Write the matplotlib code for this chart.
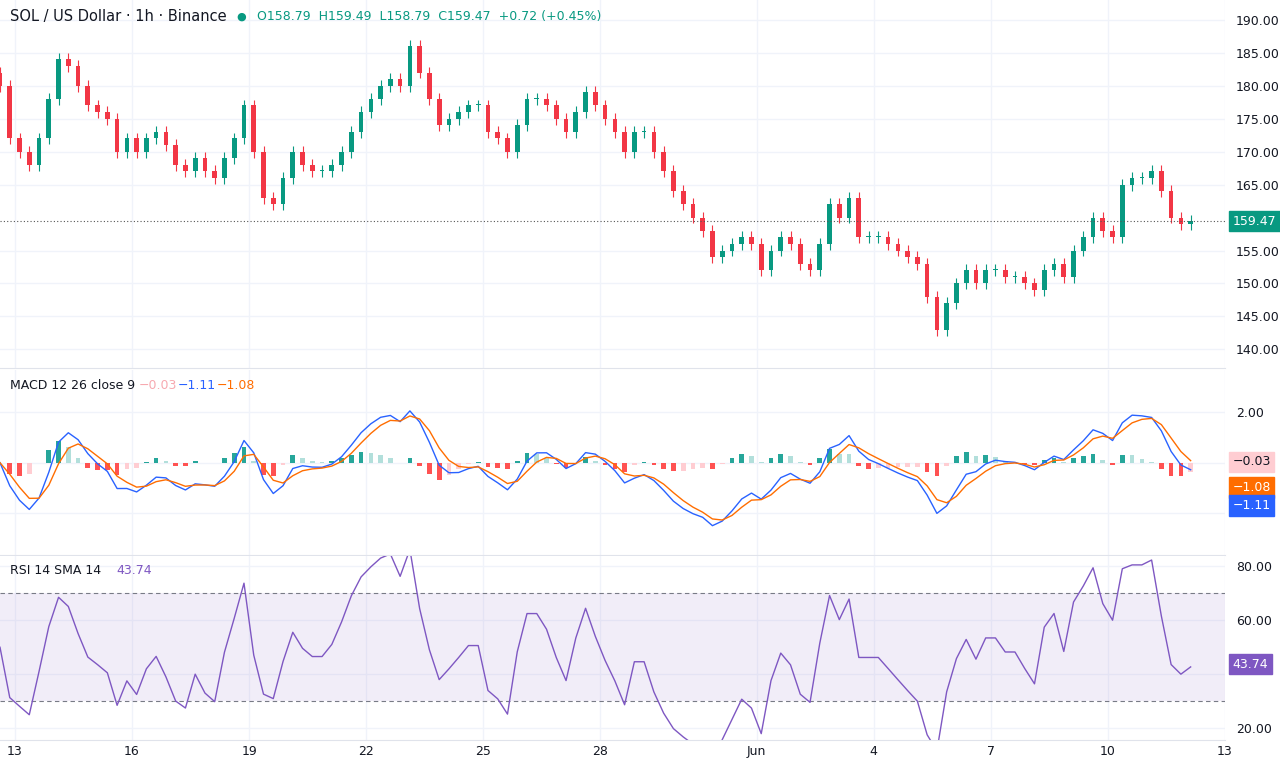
import numpy as np
import matplotlib
matplotlib.use("Agg")
import matplotlib.pyplot as plt

# 6-hour closes starting May 12 ~15:00 (day offset from May 13 00:00)
closes = [180,172,170,168,172,178,184,183,180,177,176,175,170,172,170,172,173,171,168,167,
          169,167,166,169,172,177,170,163,162,166,170,168,167,167,168,170,173,176,178,180,
          181,180,186,182,178,174,175,176,177,177,173,172,170,174,178,178,177,175,173,176,
          179,177,175,173,170,173,173,170,167,164,162,160,158,154,155,156,157,156,152,155,
          157,156,153,152,156,162,160,163,157,157,157,156,155,154,153,148,143,147,150,152,
          150,152,152,151,151,150,149,152,153,151,155,157,160,158,157,165,166,166,167,164,
          160,159,159.47]
wick_up = 0.9
wick_dn = 0.9
start_day = -0.38
step_day = 0.25
tick_days = [0,3,6,9,12,15,19,22,25,28,31]
tick_labels = ["13","16","19","22","25","28","Jun","4","7","10","13"]
price_ticks = [140,145,150,155,165,170,175,180,185,190]

c = np.array(closes, float)
o = np.r_[c[0]+2, c[:-1]]
h = np.maximum(o, c) + wick_up
l = np.minimum(o, c) - wick_dn
x = start_day + step_day*np.arange(len(c))

def ema(a, span):
    al = 2/(span+1); out = np.empty_like(a); out[0] = a[0]
    for i in range(1, len(a)): out[i] = al*a[i] + (1-al)*out[i-1]
    return out
macd = ema(c, 4) - ema(c, 8)
sig = ema(macd, 3)
hist = macd - sig
d = np.diff(c, prepend=c[0]); g = np.clip(d, 0, None); ls = np.clip(-d, 0, None)
g[0] = ls[0] = 1.5
ag = ema(g, 10); al_ = ema(ls, 10)
rsi = 100 - 100/(1 + ag/np.maximum(al_, 1e-9))

fig = plt.figure(figsize=(12.8, 7.68), dpi=100)
W = 1225/1280
ax1 = fig.add_axes([0, 0.521, W, 0.479])
ax2 = fig.add_axes([0, 0.277, W, 0.241], sharex=ax1)
ax3 = fig.add_axes([0, 0.036, W, 0.240], sharex=ax1)
G, R = "#089981", "#f23645"
for xi, oi, hi, li, ci in zip(x, o, h, l, c):
    col = G if ci >= oi else R
    ax1.vlines(xi, li, hi, color=col, lw=0.8)
    ax1.bar(xi, max(abs(ci-oi), 0.15), bottom=min(oi, ci), width=0.12, color=col)
ax1.set_ylim(137.2, 193)
ax1.axhline(c[-1], color="#555", ls=(0,(1,2)), lw=0.8)
ax1.set_yticks(price_ticks)
ax1.text(1.006, c[-1], f"{c[-1]:.2f}", transform=ax1.get_yaxis_transform(), va="center", ha="left",
         color="white", fontsize=9, bbox=dict(boxstyle="square,pad=0.3", fc=G, ec=G))
ax1.text(0.008, 0.955, "SOL / US Dollar · 1h · Binance", transform=ax1.transAxes, fontsize=10.5, color="#131722", va="center")
ax1.text(0.193, 0.955, "●", transform=ax1.transAxes, fontsize=8, color=G, va="center")
ax1.text(0.21, 0.955, "O158.79  H159.49  L158.79  C159.47  +0.72 (+0.45%)", transform=ax1.transAxes, fontsize=9, color=G, va="center")

cols = []
for i in range(len(hist)):
    prev = hist[i-1] if i else 0
    if hist[i] >= 0: cols.append("#26a69a" if hist[i] >= prev else "#b2dfdb")
    else: cols.append("#ff5252" if hist[i] <= prev else "#ffcdd2")
ax2.bar(x, hist, width=0.12, color=cols)
ax2.plot(x, macd, color="#2962ff", lw=1)
ax2.plot(x, sig, color="#ff6d00", lw=1)
m = max(abs(macd).max(), 1e-9)
ax2.set_ylim(-1.05*m*1.4, 1.05*m*1.4)
ax2.set_yticks([-m*0.8, 0, m*0.8]); ax2.set_yticklabels(["", "", "2.00"])
ax2.text(0.008, 0.9, "MACD 12 26 close 9", transform=ax2.transAxes, fontsize=9, color="#131722")
ax2.text(0.113, 0.9, "−0.03", transform=ax2.transAxes, fontsize=9, color="#f7a9b0")
ax2.text(0.145, 0.9, "−1.11", transform=ax2.transAxes, fontsize=9, color="#2962ff")
ax2.text(0.177, 0.9, "−1.08", transform=ax2.transAxes, fontsize=9, color="#ff6d00")
for yf, lab, fc, tc in [(0.505, "−0.03", "#ffcdd2", "#131722"), (0.365, "−1.08", "#ff6d00", "white"), (0.27, "−1.11", "#2962ff", "white")]:
    ax2.text(1.006, yf, lab, transform=ax2.transAxes, va="center", fontsize=9, color=tc,
             bbox=dict(boxstyle="square,pad=0.3", fc=fc, ec=fc))

ax3.axhspan(30, 70, color="#7e57c2", alpha=0.1, lw=0)
ax3.axhline(70, color="#787b86", ls=(0,(4,3)), lw=0.8)
ax3.axhline(30, color="#787b86", ls=(0,(4,3)), lw=0.8)
ax3.plot(x, rsi, color="#7e57c2", lw=1)
ax3.set_ylim(15.6, 83.7)
ax3.set_yticks([20, 40, 60, 80]); ax3.set_yticklabels(["20.00", "", "60.00", "80.00"])
ax3.text(0.008, 0.9, "RSI 14 SMA 14", transform=ax3.transAxes, fontsize=9, color="#131722")
ax3.text(0.095, 0.9, f"{43.74:.2f}", transform=ax3.transAxes, fontsize=9, color="#7e57c2")
ax3.text(1.006, 43.74, "43.74", transform=ax3.get_yaxis_transform(), va="center", fontsize=9, color="white",
         bbox=dict(boxstyle="square,pad=0.3", fc="#7e57c2", ec="#7e57c2"))

for ax in (ax1, ax2, ax3):
    ax.yaxis.tick_right()
    ax.tick_params(axis="y", length=0, labelsize=9, labelcolor="#131722", pad=8)
    ax.tick_params(axis="x", length=0)
    for s in ax.spines.values(): s.set_visible(False)
    ax.spines["bottom"].set_visible(True); ax.spines["bottom"].set_color("#e0e3eb")
    ax.grid(True, color="#f0f3fa", lw=1)
    ax.set_axisbelow(True)
ax1.yaxis.set_major_formatter(matplotlib.ticker.FormatStrFormatter("%.2f"))
ax1.set_xlim(start_day + 0.0, 30.8)
for ax in (ax1, ax2): plt.setp(ax.get_xticklabels(), visible=False)
ax3.set_xticks(tick_days); ax3.set_xticklabels(tick_labels, fontsize=9, color="#131722")
fig.savefig("out.png", dpi=100)
